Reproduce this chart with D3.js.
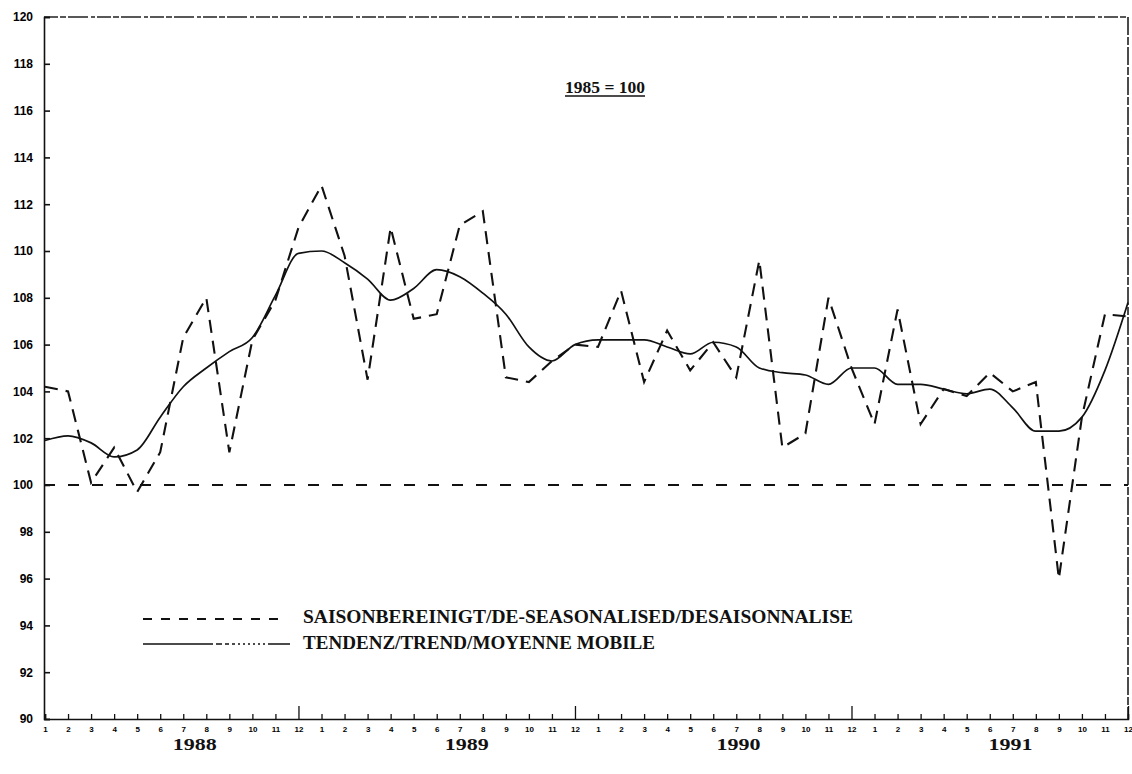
<!DOCTYPE html>
<html>
<head>
    <meta charset="utf-8">
    <script src="https://cdn.jsdelivr.net/npm/d3@7/dist/d3.min.js"></script>
    <style>
        body { margin: 0; background: white; }
        svg { display: block; }
        .ylab text { font-family: "Liberation Sans", Arial, sans-serif; font-weight: bold; font-size: 12px; }
        .xlab text { font-family: "Liberation Sans", Arial, sans-serif; font-weight: bold; font-size: 8px; }
        .serif { font-family: "Liberation Serif", "DejaVu Serif", serif; font-weight: bold; fill: #111; }
    </style>
</head>
<body>
<div id="chart"></div>
<script>
    // month labels (1988-1991), 48 months
    const months = d3.range(48).map(i => (i % 12) + 1);
    const years = ["1988", "1989", "1990", "1991"];
    const yearPos = [6.5, 18.3, 30.1, 41.9]; // in month units

    // seasonally adjusted series (dashed)
    const seasonal = [
        104.2, 104.0, 100.1, 101.6, 99.7, 101.4, 106.3, 108.0, 101.4, 106.2, 107.9, 111.0,
        112.8, 109.8, 104.5, 111.0, 107.1, 107.3, 111.1, 111.7, 104.6, 104.4, 105.3, 106.0,
        105.9, 108.3, 104.4, 106.6, 104.9, 106.1, 104.6, 109.6, 101.6, 102.2, 108.0, 105.0,
        102.6, 107.5, 102.6, 104.1, 103.8, 104.8, 104.0, 104.4, 96.0, 102.9, 107.3, 107.2
    ];
    // trend / moving average (solid)
    const trend = [
        101.9, 102.1, 101.8, 101.2, 101.5, 102.9, 104.2, 105.0, 105.7, 106.3, 108.1, 109.9,
        110.0, 109.5, 108.8, 107.9, 108.4, 109.2, 108.9, 108.2, 107.3, 105.9, 105.3, 106.0,
        106.2, 106.2, 106.2, 105.9, 105.6, 106.1, 105.9, 105.0, 104.8, 104.7, 104.3, 105.0,
        105.0, 104.3, 104.3, 104.1, 103.9, 104.1, 103.3, 102.3, 102.3, 102.9, 104.9, 107.8
    ];
    const yTicks = d3.range(90, 121, 2);
    const baseValue = 100;
    const title = "1985 = 100";
    const legendLabels = [
        "SAISONBEREINIGT/DE-SEASONALISED/DESAISONNALISE",
        "TENDENZ/TREND/MOYENNE MOBILE"
    ];

    const width = 1132;
    const height = 774;
    const svg = d3.select("#chart").append("svg")
        .attr("width", width)
        .attr("height", height);

    const x = d3.scaleLinear().domain([0, 47]).range([45, 1128]);
    const y = d3.scaleLinear().domain([90, 120]).range([719, 17]);

    // frame: top and right border
    svg.append("line")
        .attr("x1", 44).attr("x2", 1128).attr("y1", y(120)).attr("y2", y(120))
        .attr("stroke", "#222").attr("stroke-width", 1.3)
        .attr("stroke-dasharray", "14 2 6 2 20 3 4 2");
    svg.append("line")
        .attr("x1", 1128).attr("x2", 1128).attr("y1", y(120)).attr("y2", y(90))
        .attr("stroke", "#111").attr("stroke-width", 1.5)
        .attr("stroke-dasharray", "18 2 8 2");

    // y axis
    const yAxis = svg.append("g")
        .attr("class", "ylab")
        .attr("transform", "translate(44,0)")
        .call(d3.axisLeft(y).tickValues(yTicks).tickSize(-6).tickPadding(11).tickFormat(d3.format("d")));
    yAxis.select(".domain").attr("stroke", "#111").attr("stroke-width", 1.6);
    yAxis.selectAll(".tick line").attr("stroke", "#111").attr("stroke-width", 1.6);

    // x axis (months)
    const xAxis = svg.append("g")
        .attr("class", "xlab")
        .attr("transform", `translate(0,${y(90)})`)
        .call(d3.axisBottom(x).tickValues(d3.range(48)).tickSize(-5).tickPadding(7)
            .tickFormat(i => months[i]));
    xAxis.select(".domain").attr("stroke", "#111").attr("stroke-width", 1.6);
    xAxis.selectAll(".tick line")
        .attr("stroke", "#111").attr("stroke-width", 1.3)
        .attr("y2", i => months[i] === 12 ? -13 : -5);
    xAxis.selectAll(".tick text").attr("dy", "0.71em").attr("y", 7);

    // year labels
    svg.selectAll(".year")
        .data(years)
        .join("text")
        .attr("class", "year serif")
        .attr("x", (d, i) => x(yearPos[i]))
        .attr("y", 750)
        .attr("text-anchor", "middle")
        .attr("font-size", 17)
        .attr("textLength", 44)
        .attr("lengthAdjust", "spacingAndGlyphs")
        .text(d => d);

    // title
    svg.append("text")
        .attr("class", "serif")
        .attr("x", 605).attr("y", 93)
        .attr("text-anchor", "middle")
        .attr("font-size", 16)
        .attr("textLength", 80)
        .attr("lengthAdjust", "spacingAndGlyphs")
        .text(title);
    svg.append("line")
        .attr("x1", 565).attr("x2", 645).attr("y1", 96).attr("y2", 96)
        .attr("stroke", "#111").attr("stroke-width", 1.3);

    // base 100 line
    svg.append("line")
        .attr("x1", 44).attr("x2", 1128).attr("y1", y(baseValue)).attr("y2", y(baseValue))
        .attr("stroke", "#111").attr("stroke-width", 2)
        .attr("stroke-dasharray", "11 13");

    const line = d3.line().x((d, i) => x(i)).y(d => y(d));

    svg.append("path")
        .datum(trend)
        .attr("d", line.curve(d3.curveMonotoneX))
        .attr("fill", "none")
        .attr("stroke", "#111")
        .attr("stroke-width", 1.7);

    svg.append("path")
        .datum(seasonal)
        .attr("d", d3.line().x((d, i) => x(i)).y(d => y(d)))
        .attr("fill", "none")
        .attr("stroke", "#111")
        .attr("stroke-width", 2.1)
        .attr("stroke-dasharray", "13 8");

    // legend
    const legend = svg.append("g");
    legend.append("line")
        .attr("x1", 143).attr("x2", 283).attr("y1", 619).attr("y2", 619)
        .attr("stroke", "#111").attr("stroke-width", 1.8)
        .attr("stroke-dasharray", "9 9");
    legend.append("line")
        .attr("x1", 143).attr("x2", 290).attr("y1", 644).attr("y2", 644)
        .attr("stroke", "#111").attr("stroke-width", 1.6)
        .attr("stroke-dasharray", "70 3 6 3 4 3 3 3 2 3 2 3 2 3 2 3 2 3 2 3");
    legend.selectAll(".leg")
        .data(legendLabels)
        .join("text")
        .attr("class", "leg serif")
        .attr("x", 303)
        .attr("y", (d, i) => 623 + i * 26)
        .attr("font-size", 18)
        .attr("textLength", (d, i) => i === 0 ? 550 : 352)
        .attr("lengthAdjust", "spacingAndGlyphs")
        .text(d => d);
</script>
</body>
</html>
